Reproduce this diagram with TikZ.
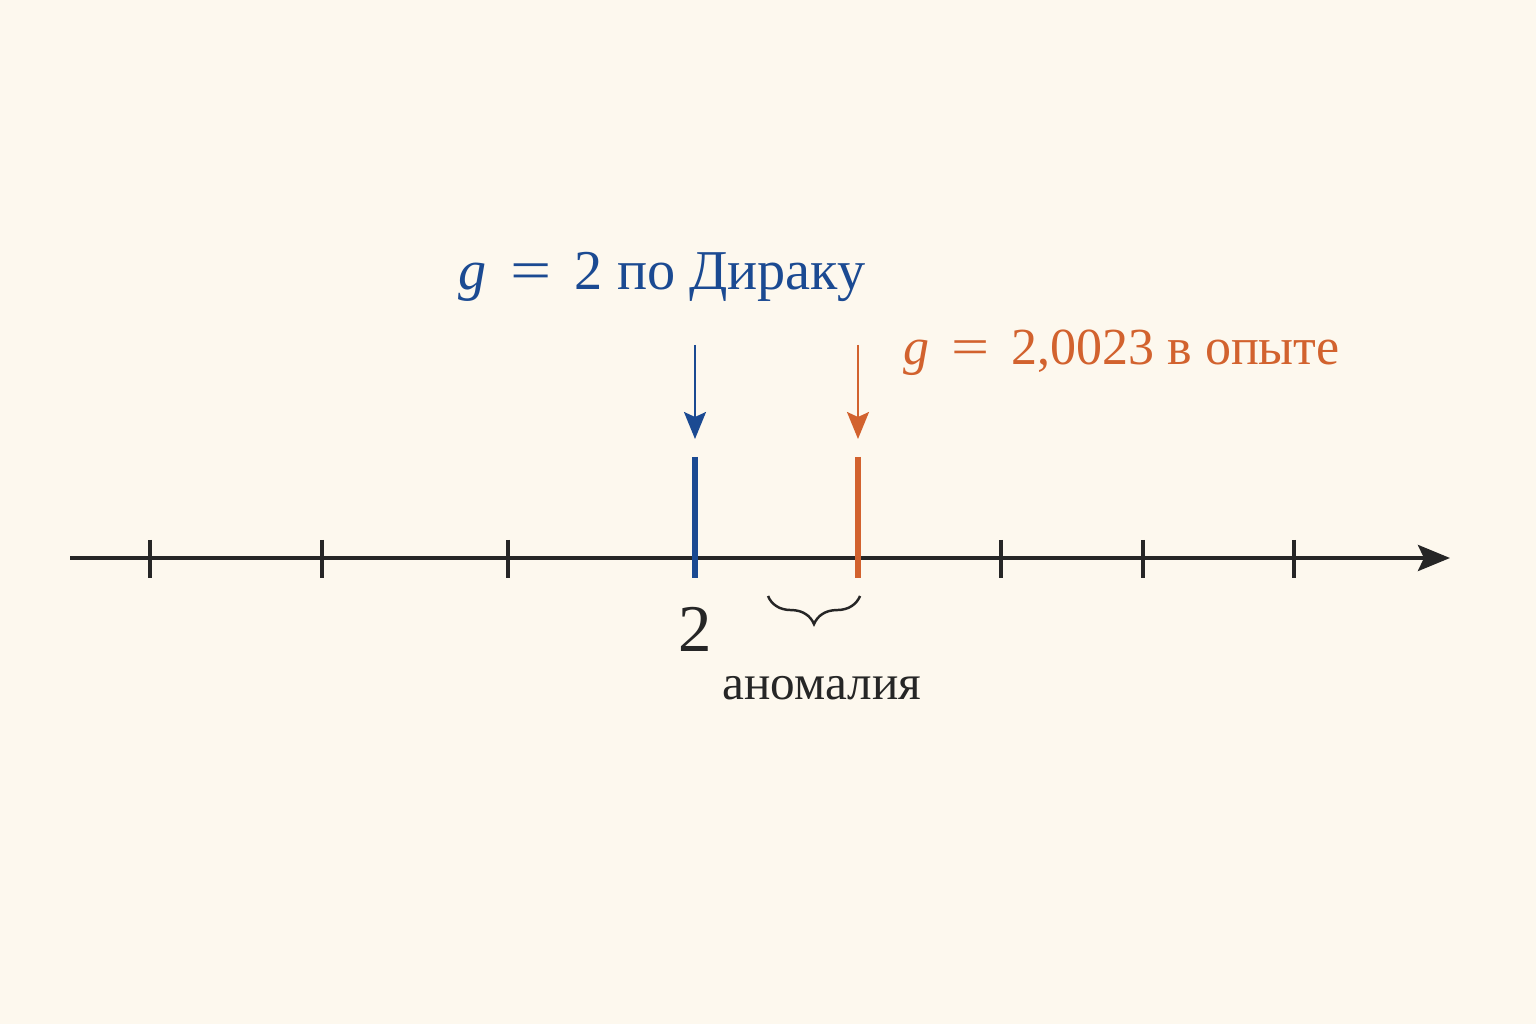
\documentclass[tikz,border=0pt]{standalone}
\usepackage{fontspec}
\setmainfont{Liberation Serif}
\usetikzlibrary{arrows.meta,decorations.pathreplacing}
\definecolor{bg}{HTML}{FDF8EE}
\definecolor{dirac}{HTML}{1B4A92}
\definecolor{expt}{HTML}{D2622E}
\definecolor{ink}{HTML}{262626}
\newcommand{\eqsp}{\hspace{0.42em}\scalebox{1.3}[1]{=}\hspace{0.42em}}

\begin{document}
\begin{tikzpicture}[x=0.1mm,y=-0.1mm,
    axis/.style={draw=ink,line width=1.2pt,-{Stealth[length=3.2mm,width=2.6mm,inset=0.6mm]}},
    tick/.style={draw=ink,line width=1.2pt},
    mark line/.style={line width=1.5pt},
    pointer/.style={line width=0.6pt,-{Stealth[length=2.7mm,width=2.2mm,inset=0.5mm]}},
    lbl/.style={inner sep=0pt}]
    \fill[bg] (0,0) rectangle (1536,1024);
    \useasboundingbox (0,0) rectangle (1536,1024);

    % axis
    \coordinate (axisL) at (70,558);
    \coordinate (axisR) at (1450,558);
    \path[axis] (axisL) -- (axisR);
    \foreach \x in {150,322,508,1001,1143,1294}
        \draw[tick] (\x,540) -- (\x,578);

    % g = 2
    \coordinate (dTop) at (695,457);
    \coordinate (dBot) at (695,578);
    \draw[mark line,dirac] (dTop) -- (dBot);
    \coordinate (dA) at (695,345);
    \coordinate (dB) at (695,439);
    \draw[pointer,dirac] (dA) -- (dB);
    \node[lbl,text=dirac,font=\fontsize{16}{20}\selectfont](dirac)at(662,277){\textit{g}\eqsp 2 по Дираку};
    \node[lbl,text=ink,font=\fontsize{19}{22}\selectfont](two)at(695,629){2};

    % g = 2,0023
    \coordinate (eTop) at (858,457);
    \coordinate (eBot) at (858,578);
    \draw[mark line,expt] (eTop) -- (eBot);
    \coordinate (eA) at (858,345);
    \coordinate (eB) at (858,439);
    \draw[pointer,expt] (eA) -- (eB);
    \node[lbl,text=expt,anchor=west,font=\fontsize{14.8}{18}\selectfont](expt)at(903,353){\textit{g}\eqsp 2,0023 в опыте};

    % anomaly
    \coordinate (bL) at (768,596);
    \coordinate (bR) at (860,596);
    \draw[ink,line width=0.7pt,decorate,decoration={brace,mirror,amplitude=8pt}] (bL) -- (bR);
    \node[lbl,text=ink,font=\fontsize{14}{17}\selectfont](anom)at(822,688){аномалия};
\end{tikzpicture}
\end{document}
